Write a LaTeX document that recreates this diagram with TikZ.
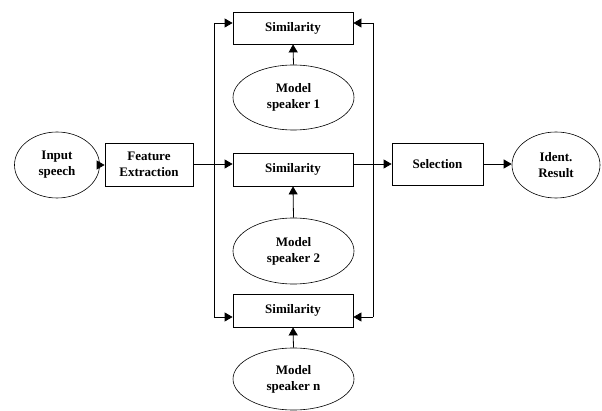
\documentclass[tikz,border=0pt]{standalone}
\usepackage{fontspec}
\setmainfont{Liberation Serif}
\usetikzlibrary{arrows.meta,shapes.geometric}
\tikzset{
  box/.style={draw, line width=0.8pt, rectangle, inner sep=0pt, font=\bfseries\fontsize{13}{16}\selectfont, align=center},
  oval/.style={draw, line width=0.6pt, ellipse, inner sep=0pt, font=\bfseries\fontsize{13}{16}\selectfont, align=center},
  conn/.style={line width=0.8pt},
  arr/.style={line width=0.8pt, -{Triangle[length=8pt,width=9pt]}}
}
\begin{document}
\begin{tikzpicture}[x=1pt,y=-1pt]
\useasboundingbox (0,0) rectangle (602,411);
\node[oval, minimum width=85pt, minimum height=66pt] (inp) at (57,165) {Input\\speech};
\node[box, minimum width=88pt, minimum height=43pt] (feat) at (149,164.5) {Feature\\Extraction};
\node[box, minimum width=120pt, minimum height=32pt] (sim1) at (293,28) {Similarity};
\node[box, minimum width=120pt, minimum height=33pt] (sim2) at (293,169.5) {Similarity};
\node[box, minimum width=120pt, minimum height=33pt] (sim3) at (293,310.5) {Similarity};
\node[oval, minimum width=121pt, minimum height=65pt] (m1) at (293.5,97.5) {Model\\speaker 1};
\node[oval, minimum width=121pt, minimum height=66pt] (m2) at (293.5,251) {Model\\speaker 2};
\node[oval, minimum width=121pt, minimum height=62pt] (m3) at (293.5,379) {Model\\speaker n};
\node[box, minimum width=91pt, minimum height=42pt] (sel) at (437.5,164) {Selection};
\node[oval, minimum width=88pt, minimum height=66pt] (res) at (556,165) {Ident.\\Result};
\coordinate (lt) at (214,23);
\coordinate (lb) at (214,317);
\coordinate (rt) at (373,23);
\coordinate (rb) at (373,317);
\coordinate (jl) at (214,164);
\coordinate (jr) at (373,164);
\draw[arr] (inp.east) -- (inp.east -| feat.west);
\draw[conn] (feat.east |- jl) -- (jl);
\draw[arr] (jl) -- (jl -| sim2.west);
\draw[conn] (lt) -- (lb);
\draw[arr] (lt) -- (lt -| sim1.west);
\draw[arr] (lb) -- (lb -| sim3.west);
\draw[conn] (rt) -- (rb);
\draw[arr] (rt) -- (rt -| sim1.east);
\draw[arr] (rb) -- (rb -| sim3.east);
\draw[conn] (jr -| sim2.east) -- (jr);
\draw[arr] (jr) -- (jr -| sel.west);
\draw[arr] (sel.east) -- (sel.east -| res.west);
\draw[arr] (m1.north) -- (sim1.south);
\draw[arr] (m2.north) -- (sim2.south);
\draw[arr] (m3.north) -- (sim3.south);
\end{tikzpicture}
\end{document}
